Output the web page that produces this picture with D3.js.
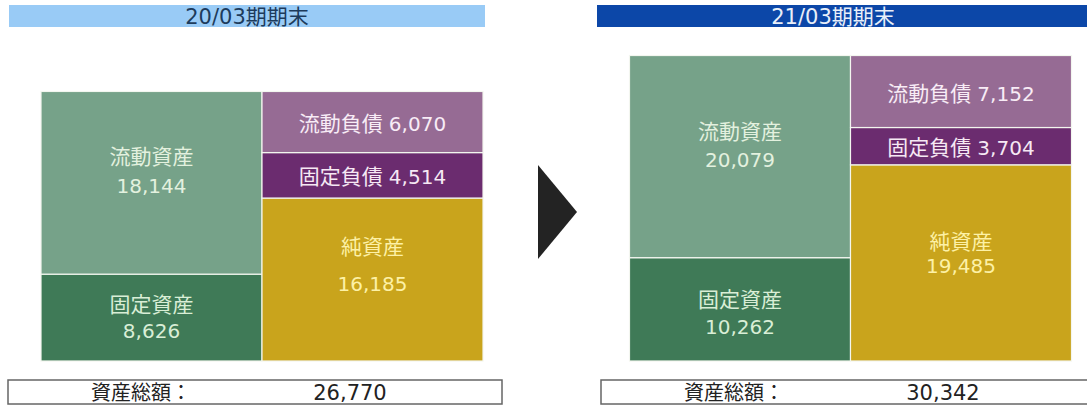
<!DOCTYPE html>
<html>
<head>
<meta charset="utf-8">
<script src="https://cdn.jsdelivr.net/npm/d3@7"></script>
<style>
  body { margin: 0; background: #fff; }
  svg { display: block; font-family: "DejaVu Sans", "Noto Sans CJK JP", sans-serif; }
</style>
</head>
<body>
<svg id="chart" width="1087" height="408"></svg>
<script>
// values (単位: 百万円)
const periods = ['20/03期期末', '21/03期期末'];
const assetKeys = ['固定資産', '流動資産'];            // bottom -> top
const liabKeys = ['純資産', '固定負債', '流動負債'];   // bottom -> top
const currentAssets = [18144, 20079];
const fixedAssets = [8626, 10262];
const currentLiab = [6070, 7152];
const fixedLiab = [4514, 3704];
const netAssets = [16185, 19485];
const totalAssets = [26770, 30342];

const rows = periods.map((p, i) => ({
  period: p,
  '流動資産': currentAssets[i],
  '固定資産': fixedAssets[i],
  '流動負債': currentLiab[i],
  '固定負債': fixedLiab[i],
  '純資産': netAssets[i]
}));

const colors = {
  '流動資産': '#76a289',
  '固定資産': '#3f7a57',
  '流動負債': '#966b94',
  '固定負債': '#6b2c6f',
  '純資産': '#c9a41c'
};
const textColors = {
  '流動資産': '#e3f1df',
  '固定資産': '#d9eed6',
  '流動負債': '#f8ecf6',
  '固定負債': '#f6e8f4',
  '純資産': '#fdf1a6'
};
// two line labels: [label dy, value dy] from block centre, per period
const twoLine = {
  '流動資産': [[-19, 10], [-18, 10]],
  '固定資産': [[-6, 20], [-2, 25]],
  '純資産': [[-26, 11], [-14, 10]]
};

const fmt = d3.format(',');
const svg = d3.select('#chart');

// shared vertical scale so both years are comparable
const y = d3.scaleLinear().domain([0, d3.max(totalAssets)]).range([361, 55.5]);
const origin = d3.scaleOrdinal(periods, [41, 629.5]);
const side = d3.scaleBand().domain(['assets', 'liab']).range([0, 442]);

// header bars
const header = [
  { x: 9, w: 476, fill: '#99cbf6', color: '#1d3b5c', tx: 247 },
  { x: 597, w: 500, fill: '#0c47a8', color: '#e9eff9', tx: 833 }
];
svg.selectAll('.head')
  .data(periods)
  .join('g')
  .attr('class', 'head')
  .each(function (p, i) {
    const h = header[i];
    const g = d3.select(this);
    g.append('rect')
      .attr('x', h.x).attr('y', 5)
      .attr('width', h.w).attr('height', 22)
      .attr('fill', h.fill);
    g.append('text')
      .attr('x', h.tx).attr('y', 23.5)
      .attr('text-anchor', 'middle')
      .attr('font-size', 21)
      .attr('fill', h.color)
      .text(p);
  });

const drawSide = (keys, col) => {
  const series = d3.stack().keys(keys)(rows);
  series.forEach((s) => {
    s.forEach((d, i) => {
      const key = s.key;
      const x0 = origin(periods[i]) + side(col);
      const w = side.bandwidth();
      const top = y(d[1]);
      const bottom = y(d[0]);
      const cx = x0 + w / 2;
      const cy = (top + bottom) / 2;
      const g = svg.append('g');
      g.append('rect')
        .attr('x', x0).attr('y', top)
        .attr('width', w).attr('height', bottom - top)
        .attr('fill', colors[key])
        .attr('stroke', '#f3f6ef')
        .attr('stroke-width', 1.2);
      const v = d[1] - d[0];
      if (twoLine[key]) {
        const [dyLabel, dyValue] = twoLine[key][i];
        g.append('text')
          .attr('x', cx).attr('y', cy + dyLabel)
          .attr('text-anchor', 'middle')
          .attr('font-size', 21)
          .attr('fill', textColors[key])
          .text(key);
        g.append('text')
          .attr('x', cx).attr('y', cy + dyValue)
          .attr('text-anchor', 'middle')
          .attr('font-size', 20)
          .attr('fill', textColors[key])
          .text(fmt(v));
      } else {
        const t = g.append('text')
          .attr('x', cx).attr('y', cy + 9)
          .attr('text-anchor', 'middle')
          .attr('font-size', 21)
          .attr('fill', textColors[key]);
        t.append('tspan').text(key);
        t.append('tspan').attr('dx', 6).attr('font-size', 20).text(fmt(v));
      }
    });
  });
};

drawSide(assetKeys, 'assets');
drawSide(liabKeys, 'liab');

// arrow between the two years
svg.append('path')
  .attr('d', 'M538,165 L577,212 L538,259 Z')
  .attr('fill', '#232323');

// total asset boxes
const boxX = d3.scaleOrdinal(periods, [8, 601]);
svg.selectAll('.total')
  .data(periods)
  .join('g')
  .attr('class', 'total')
  .each(function (p, i) {
    const g = d3.select(this);
    const bx = boxX(p);
    g.append('rect')
      .attr('x', bx).attr('y', 380)
      .attr('width', 494).attr('height', 24)
      .attr('fill', '#fff')
      .attr('stroke', '#666')
      .attr('stroke-width', 1.5);
    g.append('text')
      .attr('x', bx + 133).attr('y', 400)
      .attr('text-anchor', 'middle')
      .attr('font-size', 20)
      .attr('fill', '#222')
      .text('資産総額：');
    g.append('text')
      .attr('x', bx + 342).attr('y', 400)
      .attr('text-anchor', 'middle')
      .attr('font-size', 21)
      .attr('fill', '#222')
      .text(fmt(totalAssets[i]));
  });
</script>
</body>
</html>
